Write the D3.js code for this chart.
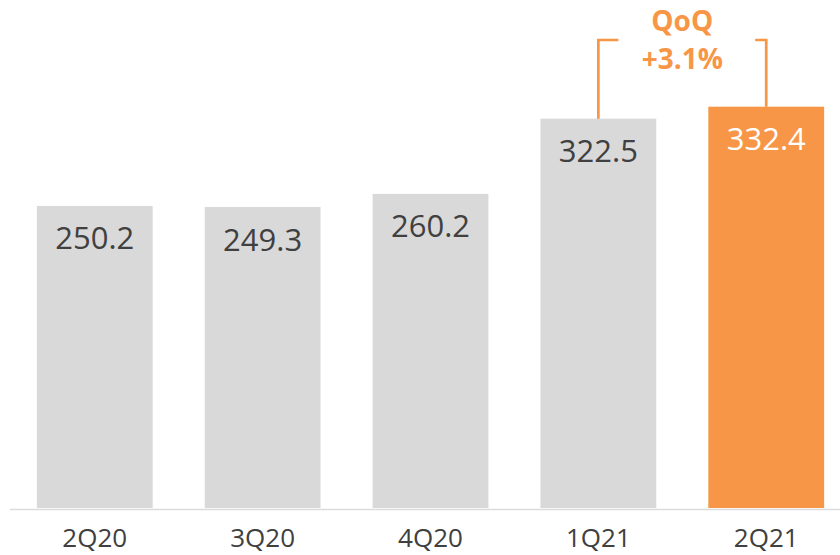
<!DOCTYPE html>
<html>
<head>
<meta charset="utf-8">
<script src="https://cdn.jsdelivr.net/npm/d3@7"></script>
<style>
  body { margin: 0; background: #fff; }
  svg { display: block; font-family: "Open Sans", "Noto Sans", sans-serif; }
</style>
</head>
<body>
<div class="graph"></div>
<script>
// data
const quarters = ["2Q20", "3Q20", "4Q20", "1Q21", "2Q21"];
const revenue = [250.2, 249.3, 260.2, 322.5, 332.4];
const highlightQuarter = "2Q21";
const changeLabel = ["QoQ", "+3.1%"];

// dimensions
const width = 840;
const height = 555;
const baseY = 508;

const greyBar = "#d9d9d9";
const orange = "#f79646";
const textColour = "#404040";

const svg = d3.select(".graph")
    .append("svg")
    .attr("width", width)
    .attr("height", height);

const x = d3.scaleBand()
    .domain(quarters)
    .range([10, 851])
    .paddingInner(0.31)
    .paddingOuter(0.16);

const y = d3.scaleLinear()
    .domain([0, 332.4])
    .range([baseY, 106.7]);

const rows = quarters.map((q, i) => ({ q: q, v: revenue[i] }));

// bars
svg.selectAll("rect.bar")
    .data(rows)
    .enter()
    .append("rect")
    .attr("class", "bar")
    .attr("x", d => x(d.q))
    .attr("y", d => y(d.v))
    .attr("width", x.bandwidth())
    .attr("height", d => y(0) - y(d.v))
    .style("fill", d => d.q === highlightQuarter ? orange : greyBar);

// baseline
svg.append("line")
    .attr("x1", 10)
    .attr("x2", width)
    .attr("y1", baseY + 1.5)
    .attr("y2", baseY + 1.5)
    .style("stroke", "#dcdcdc")
    .style("stroke-width", 1.5);

// value labels inside bars
svg.selectAll("text.value")
    .data(rows)
    .enter()
    .append("text")
    .attr("class", "value")
    .attr("x", d => x(d.q) + x.bandwidth() / 2)
    .attr("y", d => y(d.v) + 43.5)
    .attr("text-anchor", "middle")
    .style("font-size", "31px")
    .style("fill", d => d.q === highlightQuarter ? "#fff" : textColour)
    .text(d => d.v.toFixed(1));

// category labels
svg.selectAll("text.cat")
    .data(quarters)
    .enter()
    .append("text")
    .attr("class", "cat")
    .attr("x", d => x(d) + x.bandwidth() / 2)
    .attr("y", 547)
    .attr("text-anchor", "middle")
    .style("font-size", "26px")
    .style("fill", textColour)
    .text(d => d);

// QoQ bracket between the last two bars
const prevQ = quarters[quarters.length - 2];
const lastQ = quarters[quarters.length - 1];
const xl = x(prevQ) + x.bandwidth() / 2;
const xr = x(lastQ) + x.bandwidth() / 2;
const topY = 40;

svg.append("path")
    .attr("d", "M" + xl + "," + y(revenue[revenue.length - 2]) + " V" + topY + " H" + (xl + 20))
    .style("fill", "none")
    .style("stroke", orange)
    .style("stroke-width", 2.7);

svg.append("path")
    .attr("d", "M" + (xr - 11) + "," + topY + " H" + xr + " V" + y(revenue[revenue.length - 1]))
    .style("fill", "none")
    .style("stroke", orange)
    .style("stroke-width", 2.7);

svg.selectAll("text.change")
    .data(changeLabel)
    .enter()
    .append("text")
    .attr("class", "change")
    .attr("x", (xl + xr) / 2)
    .attr("y", (d, i) => 31 + i * 38)
    .attr("text-anchor", "middle")
    .style("font-size", "28px")
    .style("font-weight", "bold")
    .style("fill", orange)
    .text(d => d);
</script>
</body>
</html>
